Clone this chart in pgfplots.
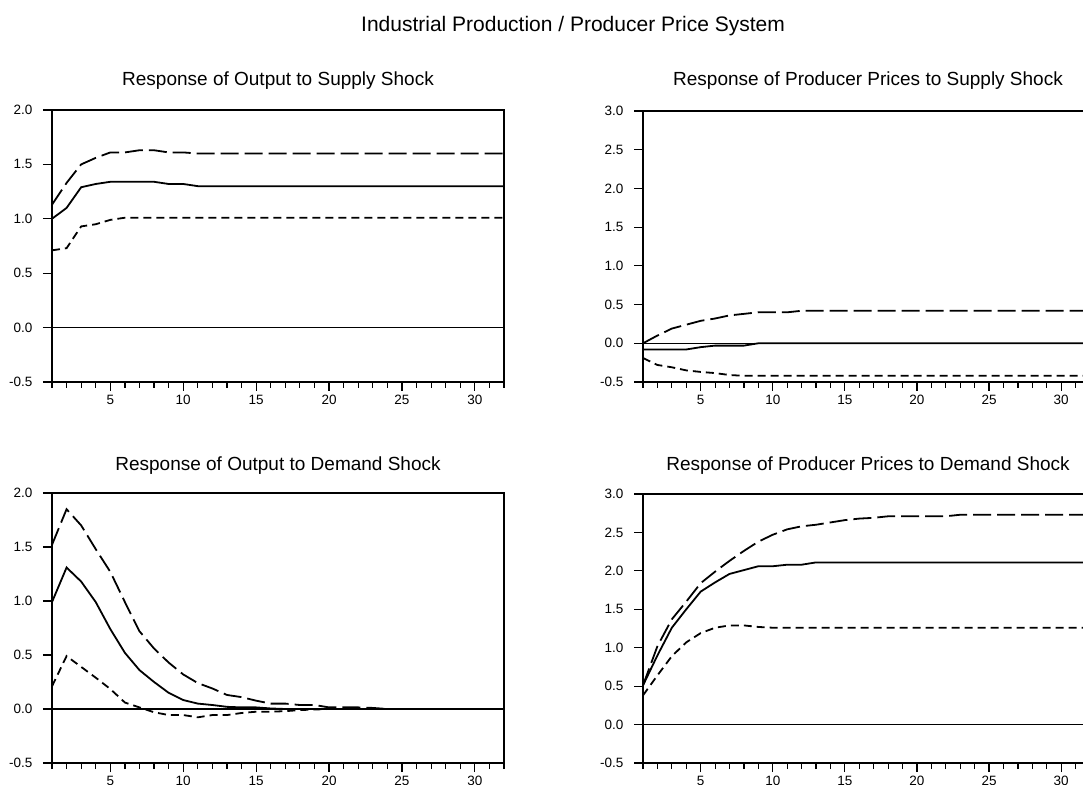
\documentclass[border=0pt]{standalone}
\usepackage{fontspec}
\setmainfont{Liberation Sans}
\usepackage{pgfplots}
\usepackage{pgfplotstable}
\pgfplotsset{compat=1.18}

% impulse responses: step, response, upper band, lower band
\pgfplotstableread{
x  r     hi    lo
1  1.00  1.13  0.71
2  1.10  1.33  0.73
3  1.29  1.50  0.93
4  1.32  1.56  0.95
5  1.34  1.61  0.99
6  1.34  1.61  1.01
7  1.34  1.63  1.01
8  1.34  1.63  1.01
9  1.32  1.61  1.01
10 1.32  1.61  1.01
11 1.30  1.60  1.01
12 1.30  1.60  1.01
32 1.30  1.60  1.01
}\outsupply

\pgfplotstableread{
x  r      hi    lo
1  -0.08  0.00  -0.19
2  -0.08  0.10  -0.28
3  -0.08  0.19  -0.31
4  -0.08  0.24  -0.35
5  -0.05  0.29  -0.37
6  -0.03  0.32  -0.385
7  -0.03  0.36  -0.41
8  -0.03  0.38  -0.42
9  0.00   0.40  -0.42
10 0.00   0.40  -0.42
11 0.00   0.40  -0.42
12 0.00   0.42  -0.42
32 0.00   0.42  -0.42
}\prisupply

\pgfplotstableread{
x  r      hi     lo
1  0.99   1.52   0.21
2  1.31   1.85   0.49
3  1.18   1.70   0.39
4  0.99   1.48   0.29
5  0.74   1.27   0.185
6  0.52   0.99   0.06
7  0.36   0.72   0.015
8  0.25   0.56   -0.03
9  0.15   0.43   -0.056
10 0.083  0.32   -0.056
11 0.05   0.24   -0.077
12 0.037  0.19   -0.056
13 0.02   0.13   -0.056
14 0.015  0.11   -0.037
15 0.015  0.077  -0.025
16 0.005  0.05   -0.025
17 0.0    0.05   -0.02
18 0.0    0.037  -0.01
19 0.0    0.037  -0.005
20 0.0    0.015  0.0
21 0.0    0.015  0.0
22 0.0    0.015  0.0
23 0.0    0.01   0.0
24 0.0    0.0    0.0
32 0.0    0.0    0.0
}\outdemand

\pgfplotstableread{
x  r     hi    lo
1  0.51  0.51  0.38
2  0.90  1.02  0.64
3  1.26  1.37  0.89
4  1.50  1.60  1.07
5  1.73  1.84  1.19
6  1.85  1.99  1.26
7  1.96  2.13  1.29
8  2.01  2.26  1.29
9  2.06  2.38  1.27
10 2.06  2.47  1.26
11 2.08  2.54  1.26
12 2.08  2.58  1.26
13 2.11  2.60  1.26
14 2.11  2.63  1.26
15 2.11  2.66  1.26
16 2.11  2.68  1.26
17 2.11  2.69  1.26
18 2.11  2.71  1.26
22 2.11  2.71  1.26
23 2.11  2.73  1.26
32 2.11  2.73  1.26
}\pridemand

\pgfplotsset{
  ev/.style={
    scale only axis, anchor=south west,
    xmin=1, xmax=32,
    axis line style={line width=1.6pt},
    tick style={black, line width=1.2pt},
    tick align=outside,
    xtick pos=bottom, ytick pos=left,
    xtick={5,10,15,20,25,30},
    xticklabels={5,10,15,20,25,30},
    minor xtick={1,...,32},
    major tick length=9pt, minor tick length=6pt,
    tick label style={font=\fontsize{13.5}{15}\selectfont},
    yticklabel style={xshift=-7pt},
    xticklabel style={yshift=-1pt},
  },
  resp/.style={black, line width=1.8pt},
  upper/.style={black, line width=1.8pt, dash pattern=on 18pt off 6pt},
  lower/.style={black, line width=1.8pt, dash pattern=on 8pt off 5pt},
  zero/.style={black, line width=1.5pt},
}

\newcommand{\ttl}{\fontsize{19}{21}\selectfont}

\begin{document}
\begin{tikzpicture}
\useasboundingbox (0pt,0pt) rectangle (1083pt,784pt);

\node[anchor=base] at (573pt,752pt) {\fontsize{21}{23}\selectfont Industrial Production / Producer Price System};
\node[anchor=base] at (278pt,698pt) {\ttl Response of Output to Supply Shock};
\node[anchor=base] at (868pt,698pt) {\ttl Response of Producer Prices to Supply Shock};
\node[anchor=base] at (278pt,313pt) {\ttl Response of Output to Demand Shock};
\node[anchor=base] at (868pt,313pt) {\ttl Response of Producer Prices to Demand Shock};

% top left
\begin{axis}[ev, at={(52pt,402pt)}, width=452pt, height=272pt,
  ymin=-0.5, ymax=2.0,
  ytick={-0.5,0,0.5,1,1.5,2},
  yticklabels={-0.5,0.0,0.5,1.0,1.5,2.0}]
\addplot[zero] coordinates {(1,0) (32,0)};
\addplot[upper] table[x=x,y=hi] {\outsupply};
\addplot[resp] table[x=x,y=r] {\outsupply};
\addplot[lower] table[x=x,y=lo] {\outsupply};
\end{axis}

% top right
\begin{axis}[ev, at={(643pt,402pt)}, width=447pt, height=271pt,
  ymin=-0.5, ymax=3.0,
  ytick={-0.5,0,0.5,1,1.5,2,2.5,3},
  yticklabels={-0.5,0.0,0.5,1.0,1.5,2.0,2.5,3.0}]
\addplot[zero] coordinates {(1,0) (32,0)};
\addplot[upper] table[x=x,y=hi] {\prisupply};
\addplot[resp] table[x=x,y=r] {\prisupply};
\addplot[lower] table[x=x,y=lo] {\prisupply};
\end{axis}

% bottom left
\begin{axis}[ev, at={(52pt,21pt)}, width=452pt, height=270pt,
  ymin=-0.5, ymax=2.0,
  ytick={-0.5,0,0.5,1,1.5,2},
  yticklabels={-0.5,0.0,0.5,1.0,1.5,2.0}]
\addplot[zero] coordinates {(1,0) (32,0)};
\addplot[upper] table[x=x,y=hi] {\outdemand};
\addplot[resp] table[x=x,y=r] {\outdemand};
\addplot[lower] table[x=x,y=lo] {\outdemand};
\end{axis}

% bottom right
\begin{axis}[ev, at={(643pt,21pt)}, width=447pt, height=269pt,
  ymin=-0.5, ymax=3.0,
  ytick={-0.5,0,0.5,1,1.5,2,2.5,3},
  yticklabels={-0.5,0.0,0.5,1.0,1.5,2.0,2.5,3.0}]
\addplot[zero] coordinates {(1,0) (32,0)};
\addplot[upper] table[x=x,y=hi] {\pridemand};
\addplot[resp] table[x=x,y=r] {\pridemand};
\addplot[lower] table[x=x,y=lo] {\pridemand};
\end{axis}
\end{tikzpicture}
\end{document}
